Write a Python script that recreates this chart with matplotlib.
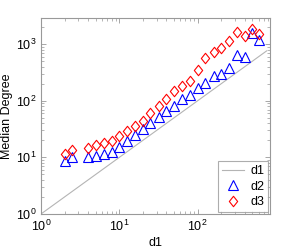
import numpy as np
import matplotlib
matplotlib.use("Agg")
import matplotlib.pyplot as plt
from matplotlib.path import Path

plt.rcParams['font.family'] = ['Liberation Sans', 'DejaVu Sans']
plt.rcParams['mathtext.fontset'] = 'custom'
plt.rcParams['mathtext.rm'] = 'Liberation Sans'

# x values (d1) shared by both marker series
d1 = [2, 2.5, 4, 5, 6.3, 8, 10, 12.6, 16, 20, 25, 32, 40, 50, 63,
      80, 100, 126, 160, 200, 250, 320, 400, 490, 600]
# median degree of the d2 series (triangles)
d2 = [8.7, 10.2, 10.2, 10.6, 11.5, 12.5, 15.3, 19.6, 25, 32, 41, 52, 66,
      82, 108, 128, 170, 208, 277, 300, 384, 650, 600, 1600, 1200]
# median degree of the d3 series (diamonds)
d3 = [11.5, 13.6, 14.7, 16.6, 18.1, 19.6, 24, 29.4, 36, 44, 61, 82, 108,
      150, 184, 226, 354, 577, 737, 867, 1150, 1660, 1410, 1880, 1530]
# reference line y = x
diag = [1, 760]

# matlab style diamond, a bit taller than wide
diamond = Path([(0, 1), (0.8, 0), (0, -1), (-0.8, 0), (0, 1)],
               [Path.MOVETO, Path.LINETO, Path.LINETO, Path.LINETO, Path.CLOSEPOLY])

fig = plt.figure(figsize=(2.99, 2.5), dpi=100)
ax = fig.add_axes([0.137, 0.144, 0.766, 0.784])

ax.plot(diag, diag, color='#b4b4b4', lw=0.8, label='d1')
ax.plot(d1, d2, ls='none', marker='^', ms=7, mfc='none', mec='blue', mew=0.8, label='d2')
ax.plot(d1, d3, ls='none', marker=diamond, ms=7.5, mfc='none', mec='red', mew=0.8, label='d3')

ax.set_xscale('log')
ax.set_yscale('log')
ax.set_xlim(1, 840)
ax.set_ylim(1, 2900)

for s in ax.spines.values():
    s.set_color('#999999')
    s.set_linewidth(0.8)
ax.tick_params(which='both', direction='in', top=True, right=True, colors='#999999',
               labelcolor='black', labelsize=9)
ax.tick_params(which='major', length=3.5, width=0.6)
ax.tick_params(which='minor', length=2, width=0.5)

ax.set_xlabel('d1', fontsize=9, labelpad=2)
ax.set_ylabel('Median Degree', fontsize=9, labelpad=2)

leg = ax.legend(loc='lower right', fontsize=9, frameon=True, fancybox=False,
                borderaxespad=0.15, handlelength=1.8, handletextpad=0.5,
                borderpad=0.3, labelspacing=0.3)
leg.get_frame().set_edgecolor('#999999')
leg.get_frame().set_linewidth(0.8)

fig.savefig('out.png', dpi=100)
